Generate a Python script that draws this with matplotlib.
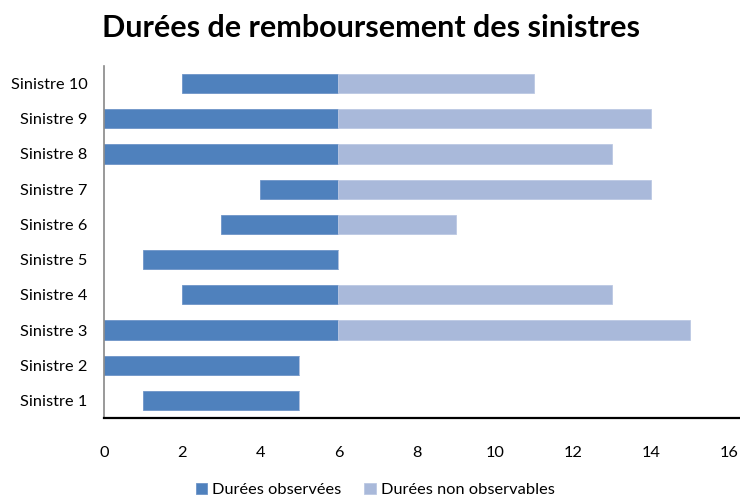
import matplotlib.pyplot as plt
import numpy as np

plt.rcParams['font.family'] = ['Lato', 'DejaVu Sans']

sinistres = ["Sinistre 1", "Sinistre 2", "Sinistre 3", "Sinistre 4", "Sinistre 5",
             "Sinistre 6", "Sinistre 7", "Sinistre 8", "Sinistre 9", "Sinistre 10"]
debut = [1, 0, 0, 2, 1, 3, 4, 0, 0, 2]
observees = [4, 5, 6, 4, 5, 3, 2, 6, 6, 4]
non_observables = [0, 0, 9, 7, 0, 3, 8, 7, 8, 5]
xticks = [0, 2, 4, 6, 8, 10, 12, 14, 16]

bleu = "#4F81BD"
bleu_clair = "#A9B9DA"

fig = plt.figure(figsize=(7.4, 5.01), dpi=100)
ax = fig.add_axes([104/740, 1 - 418/501, 1 - 104/740, 352/501])

y = np.arange(len(sinistres))
debut = np.array(debut)
observees = np.array(observees)
non_observables = np.array(non_observables)

ax.barh(y, observees, left=debut, height=0.55, color=bleu,
        edgecolor="#6E95C8", linewidth=0.6, label="Durées observées")
ax.barh(y, non_observables, left=debut + observees, height=0.55, color=bleu_clair,
        edgecolor="#BCC9E3", linewidth=0.6, label="Durées non observables")

ax.set_xlim(0, 16.28)
ax.set_ylim(-0.5, len(sinistres) - 0.5)
ax.set_xticks(xticks)
ax.set_yticks(y)
ax.set_yticklabels(sinistres)
ax.tick_params(axis="both", length=0, labelsize=11.8)
ax.tick_params(axis="x", pad=20)
ax.tick_params(axis="y", pad=12)

ax.spines["top"].set_visible(False)
ax.spines["right"].set_visible(False)
ax.spines["left"].set_color("#888888")
ax.spines["left"].set_linewidth(1.2)
ax.spines["bottom"].set_color("black")
ax.spines["bottom"].set_linewidth(1.6)

fig.suptitle("Durées de remboursement des sinistres", fontsize=22, fontweight="bold",
             x=0.502, y=0.972)

fig.legend(loc="lower center", bbox_to_anchor=(0.507, -0.022), ncol=2, frameon=False,
           fontsize=11.8, handlelength=0.7, handleheight=0.7, handletextpad=0.3,
           columnspacing=1.4)

fig.savefig("out.png", dpi=100)
